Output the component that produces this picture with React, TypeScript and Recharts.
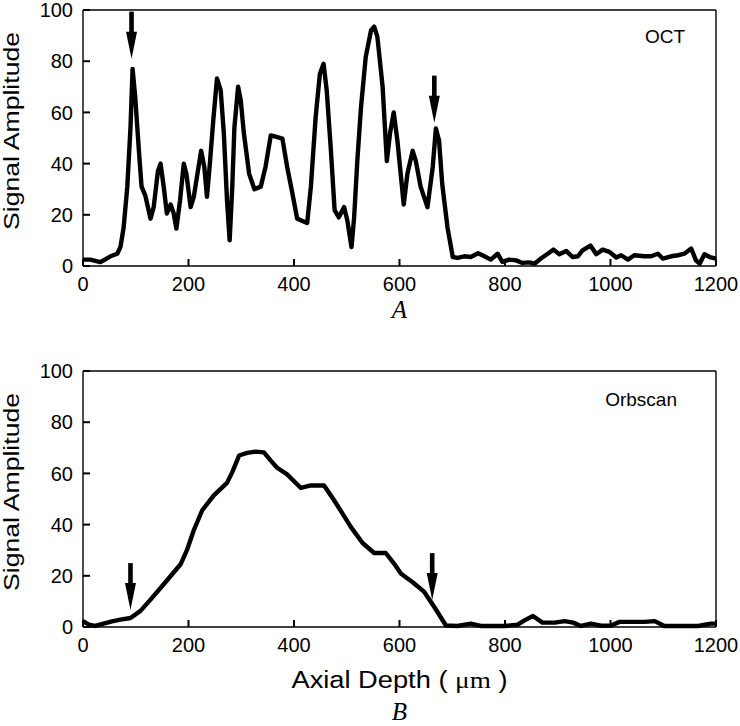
import { LineChart, Line, XAxis, YAxis, Scatter } from "recharts";

const depthTicks = [0, 200, 400, 600, 800, 1000, 1200];
const ampTicks = [0, 20, 40, 60, 80, 100];

// OCT trace (panel A)
const octDepth = [
  0, 14, 33, 52, 65, 71, 77, 84, 90, 94, 99, 106, 111, 118, 128, 134, 142, 147, 153, 159, 166, 172, 177,
  184, 191, 196, 204, 210, 218, 224, 230, 235, 240, 247, 254, 261, 267, 273, 278, 283, 287, 294, 299, 305,
  315, 325, 337, 346, 356, 365, 378, 387, 397, 406, 416, 425, 432, 441, 449, 456, 462, 470, 477, 485, 495,
  501, 509, 514, 520, 527, 536, 546, 552, 558, 568, 576, 582, 589, 596, 608, 615, 625, 631, 640, 653, 663,
  669, 675, 681, 691, 701, 710, 723, 735, 749, 761, 773, 786, 795, 808, 821, 833, 846, 856, 868, 881, 892,
  903, 916, 928, 938, 947, 962, 973, 985, 998, 1011, 1020, 1033, 1045, 1064, 1077, 1090, 1099, 1115, 1128,
  1140, 1153, 1162, 1169, 1178, 1188, 1200,
];
const octAmp = [
  2.5, 2.5, 1.5, 3.8, 4.8, 7.4, 15, 31, 54, 77, 66, 45, 31, 27.6, 18.5, 23, 37, 40, 31, 20.5, 24, 20.5, 14.6,
  25.7, 40, 36, 23, 27, 37.4, 45, 38.7, 27, 38.7, 57, 73.3, 68.7, 51.8, 25.7, 10, 31, 54, 70, 64.8, 51.8,
  36, 30, 31, 38.7, 51, 50.5, 49.8, 38.7, 28.3, 18.5, 17.6, 16.8, 31, 58, 75, 79, 68.7, 45, 21.8, 19, 23,
  17.9, 7.4, 19, 41, 62, 81.7, 92, 93.5, 89.6, 70, 41, 51.8, 60, 49, 24, 36, 45, 41, 31, 23, 38.7,
  53.7, 49, 32, 15, 3.5, 3.2, 3.8, 3.5, 5, 3.8, 2.5, 4.8, 1.6, 2.5, 2.2, 1.2, 1.4, 0.9, 2.9, 4.8, 6.4,
  4.6, 5.9, 3.5, 3.8, 6.1, 8, 4.6, 6.4, 5.5, 3.3, 4.2, 2.5, 4.2, 3.8, 3.8, 4.8, 2.9, 3.8, 4.2,
  4.8, 6.8, 2.2, 0.9, 4.6, 3.5, 2.9,
];

// Orbscan trace (panel B)
const orbDepth = [
  0, 11, 23, 39, 55, 71, 90, 109, 128, 153, 185, 197, 210, 226, 248, 273, 283, 296, 311, 327, 343, 356, 368,
  387, 413, 432, 457, 476, 492, 508, 530, 552, 574, 590, 603, 625, 647, 666, 688, 710, 735, 754, 773, 799,
  824, 837, 853, 871, 894, 913, 929, 944, 963, 982, 1001, 1017, 1039, 1065, 1084, 1102, 1134, 1166, 1190, 1200,
];
const orbAmp = [
  2.3, 0.9, 0.4, 1.3, 2.2, 2.9, 3.5, 6.3, 10.7, 16.7, 24.5, 30, 37.8, 45.6, 51.4, 56.3, 60.5, 67, 68, 68.5,
  68.2, 65, 62.2, 59.6, 54.3, 55.3, 55.3, 49.5, 44.3, 39, 32.8, 28.9, 28.9, 24.7, 20.8, 17.5, 13.7, 7.8, 0.6,
  0.4, 1.3, 0.4, 0.4, 0.4, 0.9, 2.6, 4.3, 1.7, 1.7, 2.3, 1.7, 0.4, 1.3, 0.5, 0.6, 2, 2, 2, 2.3, 0.4, 0.4,
  0.4, 1.3, 1.3,
];

// arrow tips
const octArrowDepth = [92, 666];
const octArrowAmp = [81, 56];
const orbArrowDepth = [90, 662];
const orbArrowAmp = [6.6, 10.5];

const zip = (xs: number[], ys: number[]) => xs.map((depth, i) => ({ depth, amp: ys[i] }));

const SANS = "'Liberation Sans', Arial, sans-serif";
const SERIF = "'Liberation Serif', 'Times New Roman', serif";
const tickStyle = { fill: "#000", fontSize: 20, fontFamily: SANS };
const noLabel = () => "";

function Arrow(props: any) {
  const { cx, cy } = props;
  if (cx == null || cy == null) return null;
  return (
    <g fill="#000">
      <rect x={cx - 2.3} y={cy - 47} width={4.6} height={22} />
      <polygon points={`${cx - 5.5},${cy - 27} ${cx + 5.5},${cy - 27} ${cx},${cy}`} />
    </g>
  );
}

const yTitle = (props: any) => {
  const vb = props.viewBox || { x: 0, y: 10, width: 83, height: 256 };
  const x = vb.x + 19;
  const y = vb.y + vb.height / 2 - 7;
  return (
    <text
      x={x}
      y={y}
      transform={`rotate(-90 ${x} ${y})`}
      textAnchor="middle"
      fontFamily={SANS}
      fontSize={22}
      fill="#000"
      textLength={198}
      lengthAdjust="spacingAndGlyphs"
    >
      Signal Amplitude
    </text>
  );
};

interface PanelProps {
  trace: { depth: number; amp: number }[];
  arrows: { depth: number; amp: number }[];
  name: string;
  nameRight: number;
  nameDown: number;
  caption: string;
  withTitle: boolean;
  height: number;
  axisHeight: number;
}

function Panel({ trace, arrows, name, nameRight, nameDown, caption, withTitle, height, axisHeight }: PanelProps) {
  const bottomLabel = (props: any) => {
    const vb = props.viewBox || { x: 83, y: 266, width: 633, height: axisHeight };
    const cx = vb.x + vb.width / 2;
    return (
      <g>
        {withTitle && (
          <text
            x={cx}
            y={vb.y + 61}
            textAnchor="middle"
            fontFamily={SANS}
            fontSize={23}
            fill="#000"
            textLength={216}
            lengthAdjust="spacingAndGlyphs"
          >
            Axial Depth ( <tspan fontFamily={SERIF}>μm</tspan> )
          </text>
        )}
        <text
          x={cx}
          y={vb.y + (withTitle ? 93 : 52)}
          textAnchor="middle"
          fontFamily={SERIF}
          fontStyle="italic"
          fontSize={25}
          fill="#000"
        >
          {caption}
        </text>
      </g>
    );
  };

  const nameLabel = (props: any) => {
    const vb = props.viewBox || { x: 716, y: 10, width: 1, height: 256 };
    return (
      <text x={vb.x - nameRight} y={vb.y + nameDown} textAnchor="end" fontFamily={SANS} fontSize={19} fill="#000">
        {name}
      </text>
    );
  };

  const frame = { stroke: "#000", strokeWidth: 1.4 };
  const tickMark = { stroke: "#000", strokeWidth: 2 };

  return (
    <LineChart width={740} height={height} margin={{ top: 9, right: 23, bottom: 0, left: 0 }}>
      <XAxis
        xAxisId="b"
        dataKey="depth"
        type="number"
        domain={[0, 1200]}
        ticks={depthTicks}
        interval={0}
        height={axisHeight}
        tickSize={-7}
        tickMargin={18}
        tick={tickStyle}
        axisLine={frame}
        tickLine={tickMark}
        label={bottomLabel}
      />
      <XAxis
        xAxisId="t"
        orientation="top"
        type="number"
        domain={[0, 1200]}
        ticks={depthTicks}
        interval={0}
        height={1}
        tickSize={-7}
        tickFormatter={noLabel}
        axisLine={frame}
        tickLine={tickMark}
      />
      <YAxis
        yAxisId="l"
        dataKey="amp"
        type="number"
        domain={[0, 100]}
        ticks={ampTicks}
        interval={0}
        width={83}
        tickSize={-7}
        tickMargin={17}
        tick={tickStyle}
        axisLine={frame}
        tickLine={tickMark}
        label={yTitle}
      />
      <YAxis
        yAxisId="r"
        orientation="right"
        type="number"
        domain={[0, 100]}
        ticks={ampTicks}
        interval={0}
        width={1}
        tickSize={-7}
        tickFormatter={noLabel}
        axisLine={frame}
        tickLine={tickMark}
        label={nameLabel}
      />
      <Line
        xAxisId="b"
        yAxisId="l"
        data={trace}
        dataKey="amp"
        type="linear"
        stroke="#000"
        strokeWidth={4.4}
        strokeLinejoin="round"
        dot={false}
        isAnimationActive={false}
      />
      <Scatter xAxisId="b" yAxisId="l" data={arrows} dataKey="amp" shape={Arrow} isAnimationActive={false} />
    </LineChart>
  );
}

export default function App() {
  return (
    <div style={{ position: "absolute", left: 0, top: 0, width: 740, height: 726, background: "#fff" }}>
      <div style={{ position: "absolute", left: 0, top: 0 }}>
        <Panel
          trace={zip(octDepth, octAmp)}
          arrows={zip(octArrowDepth, octArrowAmp)}
          name="OCT"
          nameRight={31}
          nameDown={33}
          caption="A"
          withTitle={false}
          height={363}
          axisHeight={97}
        />
      </div>
      <div style={{ position: "absolute", left: 0, top: 361 }}>
        <Panel
          trace={zip(orbDepth, orbAmp)}
          arrows={zip(orbArrowDepth, orbArrowAmp)}
          name="Orbscan"
          nameRight={39}
          nameDown={35}
          caption="B"
          withTitle={true}
          height={365}
          axisHeight={99}
        />
      </div>
    </div>
  );
}
